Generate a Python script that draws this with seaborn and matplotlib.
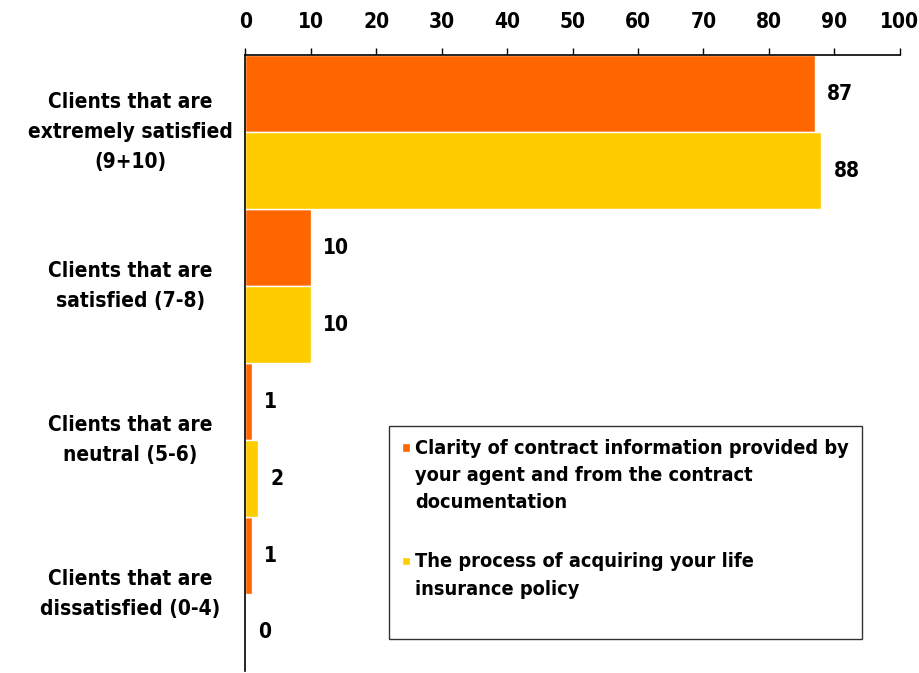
import matplotlib
matplotlib.use("Agg")
import matplotlib.pyplot as plt
import matplotlib.patches as mpatches
from matplotlib.legend_handler import HandlerPatch
import seaborn as sns
import pandas as pd

# data
categories = ["Clients that are\nextremely satisfied\n(9+10)",
              "Clients that are\nsatisfied (7-8)",
              "Clients that are\nneutral (5-6)",
              "Clients that are\ndissatisfied (0-4)"]
series_names = ["Clarity of contract information provided by\nyour agent and from the contract\ndocumentation",
                "The process of acquiring your life\ninsurance policy"]
clarity = [87, 10, 1, 1]
process = [88, 10, 2, 0]
colors = ["#FF6600", "#FFCC00"]

df = pd.DataFrame({
    "category": categories * 2,
    "series": [series_names[0]] * 4 + [series_names[1]] * 4,
    "value": clarity + process,
})

sns.set_style("white")
plt.rcParams["font.family"] = ["DejaVu Sans"]
plt.rcParams["font.stretch"] = "condensed"
plt.rcParams["font.weight"] = "bold"
plt.rcParams["text.color"] = "black"
plt.rcParams["xtick.color"] = "black"
plt.rcParams["ytick.color"] = "black"

FS = 15
LEG_FS = 14.3
LEG_LS = 1.555

fig = plt.figure(figsize=(9.19, 6.73), dpi=100)
ax = fig.add_axes([0.267, 0.003, 0.712, 0.915])

sns.barplot(data=df, x="value", y="category", hue="series", orient="h",
            palette=colors, width=1.0, gap=0, saturation=1, ax=ax)

# value labels
for cont in ax.containers:
    for bar in cont:
        w = bar.get_width()
        ax.annotate(f"{w:.0f}", (w, bar.get_y() + bar.get_height() / 2),
                    xytext=(9, 0), textcoords="offset points",
                    va="center", ha="left", fontsize=FS, fontweight="bold")

ax.set_xlim(0, 100)
ax.set_ylim(3.5, -0.5)
ax.xaxis.tick_top()
ax.set_xticks(range(0, 101, 10))
ax.tick_params(axis="x", length=5, width=1, labelsize=FS, pad=12,
               direction="out", top=True, bottom=False)
# y ticks at group boundaries, labels centred on groups
ax.set_yticks([0.5, 1.5, 2.5])
ax.set_yticklabels([])
ax.set_yticks(range(4), minor=True)
ax.set_yticklabels(categories, minor=True, ha="center", va="center",
                   fontsize=FS, fontweight="bold", linespacing=1.62)
ax.tick_params(axis="y", which="major", length=7, direction="out")
ax.tick_params(axis="y", which="minor", length=0, pad=83)
ax.set_xlabel("")
ax.set_ylabel("")

for s in ["right", "bottom"]:
    ax.spines[s].set_visible(False)
for s in ["left", "top"]:
    ax.spines[s].set_color("black")
    ax.spines[s].set_linewidth(1.2)


# legend: small square next to the first line of each (centred) label
def top_square(nlines):
    def make(legend, orig_handle, xdescent, ydescent, width, height, fontsize):
        step = 0.89 * fontsize * LEG_LS
        s = 0.42 * fontsize
        return mpatches.Rectangle((-xdescent, (nlines - 1) * step / 2 + 0.2 * fontsize),
                                  s, s)
    return make


handles, labels = ax.get_legend_handles_labels()
labels[-1] = labels[-1] + "\n"   # extra room under the last entry
hmap = {h: HandlerPatch(patch_func=top_square(l.count("\n") + 1))
        for h, l in zip(handles, labels)}
leg = ax.legend(handles, labels, handler_map=hmap, loc="upper left",
                bbox_to_anchor=(0.219, 0.398), borderaxespad=0,
                frameon=True, fancybox=False, edgecolor="black",
                handlelength=0.45, handleheight=0.5, handletextpad=0.25,
                labelspacing=2.0, borderpad=0.65,
                prop={"weight": "bold", "size": LEG_FS, "stretch": "condensed"})
leg.get_frame().set_linewidth(1.0)
for t in leg.get_texts():
    t.set_linespacing(LEG_LS)

fig.savefig("out.png", dpi=100)
